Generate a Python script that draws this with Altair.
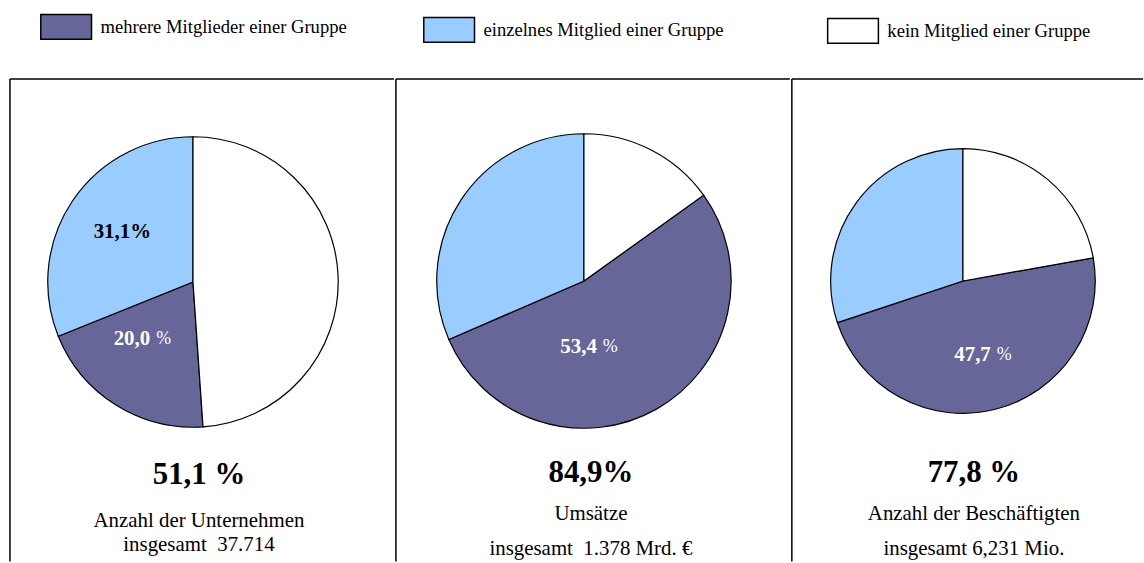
import altair as alt
import pandas as pd

# ---------------- data ----------------
categories = [
    "mehrere Mitglieder einer Gruppe",
    "einzelnes Mitglied einer Gruppe",
    "kein Mitglied einer Gruppe",
]
colors = ["#666699", "#99CCFF", "#FFFFFF"]
start_rank = [1, 2, 0]  # slices start at 12 o'clock with "kein", clockwise

shares_unternehmen = [20.0, 31.1, 48.9]
shares_umsaetze = [53.4, 31.5, 15.1]
shares_beschaeftigte = [47.7, 30.1, 22.2]

totals = ["51,1 %", "84,9%", "77,8 %"]
desc_line1 = ["Anzahl der Unternehmen", "Umsätze", "Anzahl der Beschäftigten"]
desc_line2 = ["insgesamt\u00a0 37.714", "insgesamt\u00a0 1.378 Mrd. €", "insgesamt 6,231 Mio."]
dark_labels = ["20,0", "53,4", "47,7"]
light_labels = ["31,1%"]

FONT = "Liberation Serif"
H = 485

color_scale = alt.Scale(domain=categories, range=colors)


def txt(text, x, y, size, bold=False, color="black", align="center"):
    return alt.Chart(pd.DataFrame({"t": [text]})).mark_text(
        font=FONT, fontSize=size, fontWeight="bold" if bold else "normal",
        color=color, align=align, baseline="middle",
    ).encode(text="t:N", x=alt.value(x), y=alt.value(y))


def legend_item(i, x0, ytop):
    """One legend entry (swatch + label) drawn above panel i."""
    d = pd.DataFrame({"Kategorie": [categories[i]]})
    box = alt.Chart(d).mark_rect(stroke="black", strokeWidth=1.5).encode(
        color=alt.Color("Kategorie:N", scale=color_scale, legend=None),
        x=alt.value(x0), x2=alt.value(x0 + 51),
        y=alt.value(ytop), y2=alt.value(ytop + 25),
    )
    lab = alt.Chart(d).mark_text(
        font=FONT, fontSize=18.7, color="black", align="left", baseline="middle"
    ).encode(text="Kategorie:N", x=alt.value(x0 + 60), y=alt.value(ytop + 12.5))
    return [box, lab]


def panel(i, shares, w, cx, cy, r, tx, dark_pos, leg_pos, extra=None, lines=(398, 443, 468)):
    df = pd.DataFrame({"Kategorie": categories, "Anteil": shares, "rank": start_rank})
    pie = alt.Chart(df).mark_arc(radius=r, stroke="black", strokeWidth=1.2).encode(
        theta=alt.Theta("Anteil:Q", stack=True),
        color=alt.Color("Kategorie:N", scale=color_scale, legend=None),
        order=alt.Order("rank:Q"),
        x=alt.value(cx), y=alt.value(cy),
    )
    one = pd.DataFrame({"a": [0]})
    left = alt.Chart(one).mark_rule(color="black", strokeWidth=1.5).encode(
        x=alt.value(0), y=alt.value(0), y2=alt.value(H))
    top = alt.Chart(one).mark_rule(color="black", strokeWidth=1.5).encode(
        x=alt.value(0), x2=alt.value(w), y=alt.value(0))
    dx, dy = dark_pos
    layers = [pie, left, top,
              txt(dark_labels[i], dx, dy, 21, bold=True, color="white", align="right"),
              txt("%", dx + 6, dy, 18, color="white", align="left"),
              txt(totals[i], tx, lines[0], 31, bold=True),
              txt(desc_line1[i], tx, lines[1], 21),
              txt(desc_line2[i], tx, lines[2], 21)]
    layers += legend_item(i, *leg_pos)
    if extra is not None:
        layers.append(extra)
    return alt.layer(*layers).properties(width=w, height=H)


p1 = panel(0, shares_unternehmen, 386, 184, 204, 146, 190, (141, 261), (31, -65),
           extra=txt(light_labels[0], 113, 154, 21, bold=True), lines=(398, 444, 468))
p2 = panel(1, shares_umsaetze, 396, 189, 203, 148, 196, (202, 269), (28, -62),
           lines=(396, 437, 472))
p3 = panel(2, shares_beschaeftigte, 353, 172, 203, 133, 183, (200, 277), (36, -61),
           lines=(396, 437, 472))

chart = alt.hconcat(p1, p2, p3, spacing=0).configure_view(stroke=None).properties(
    padding={"left": 9, "top": 12, "right": 0, "bottom": 0},
    background="white",
)

chart.save("out.html", embed_options={"renderer": "svg", "actions": False})
